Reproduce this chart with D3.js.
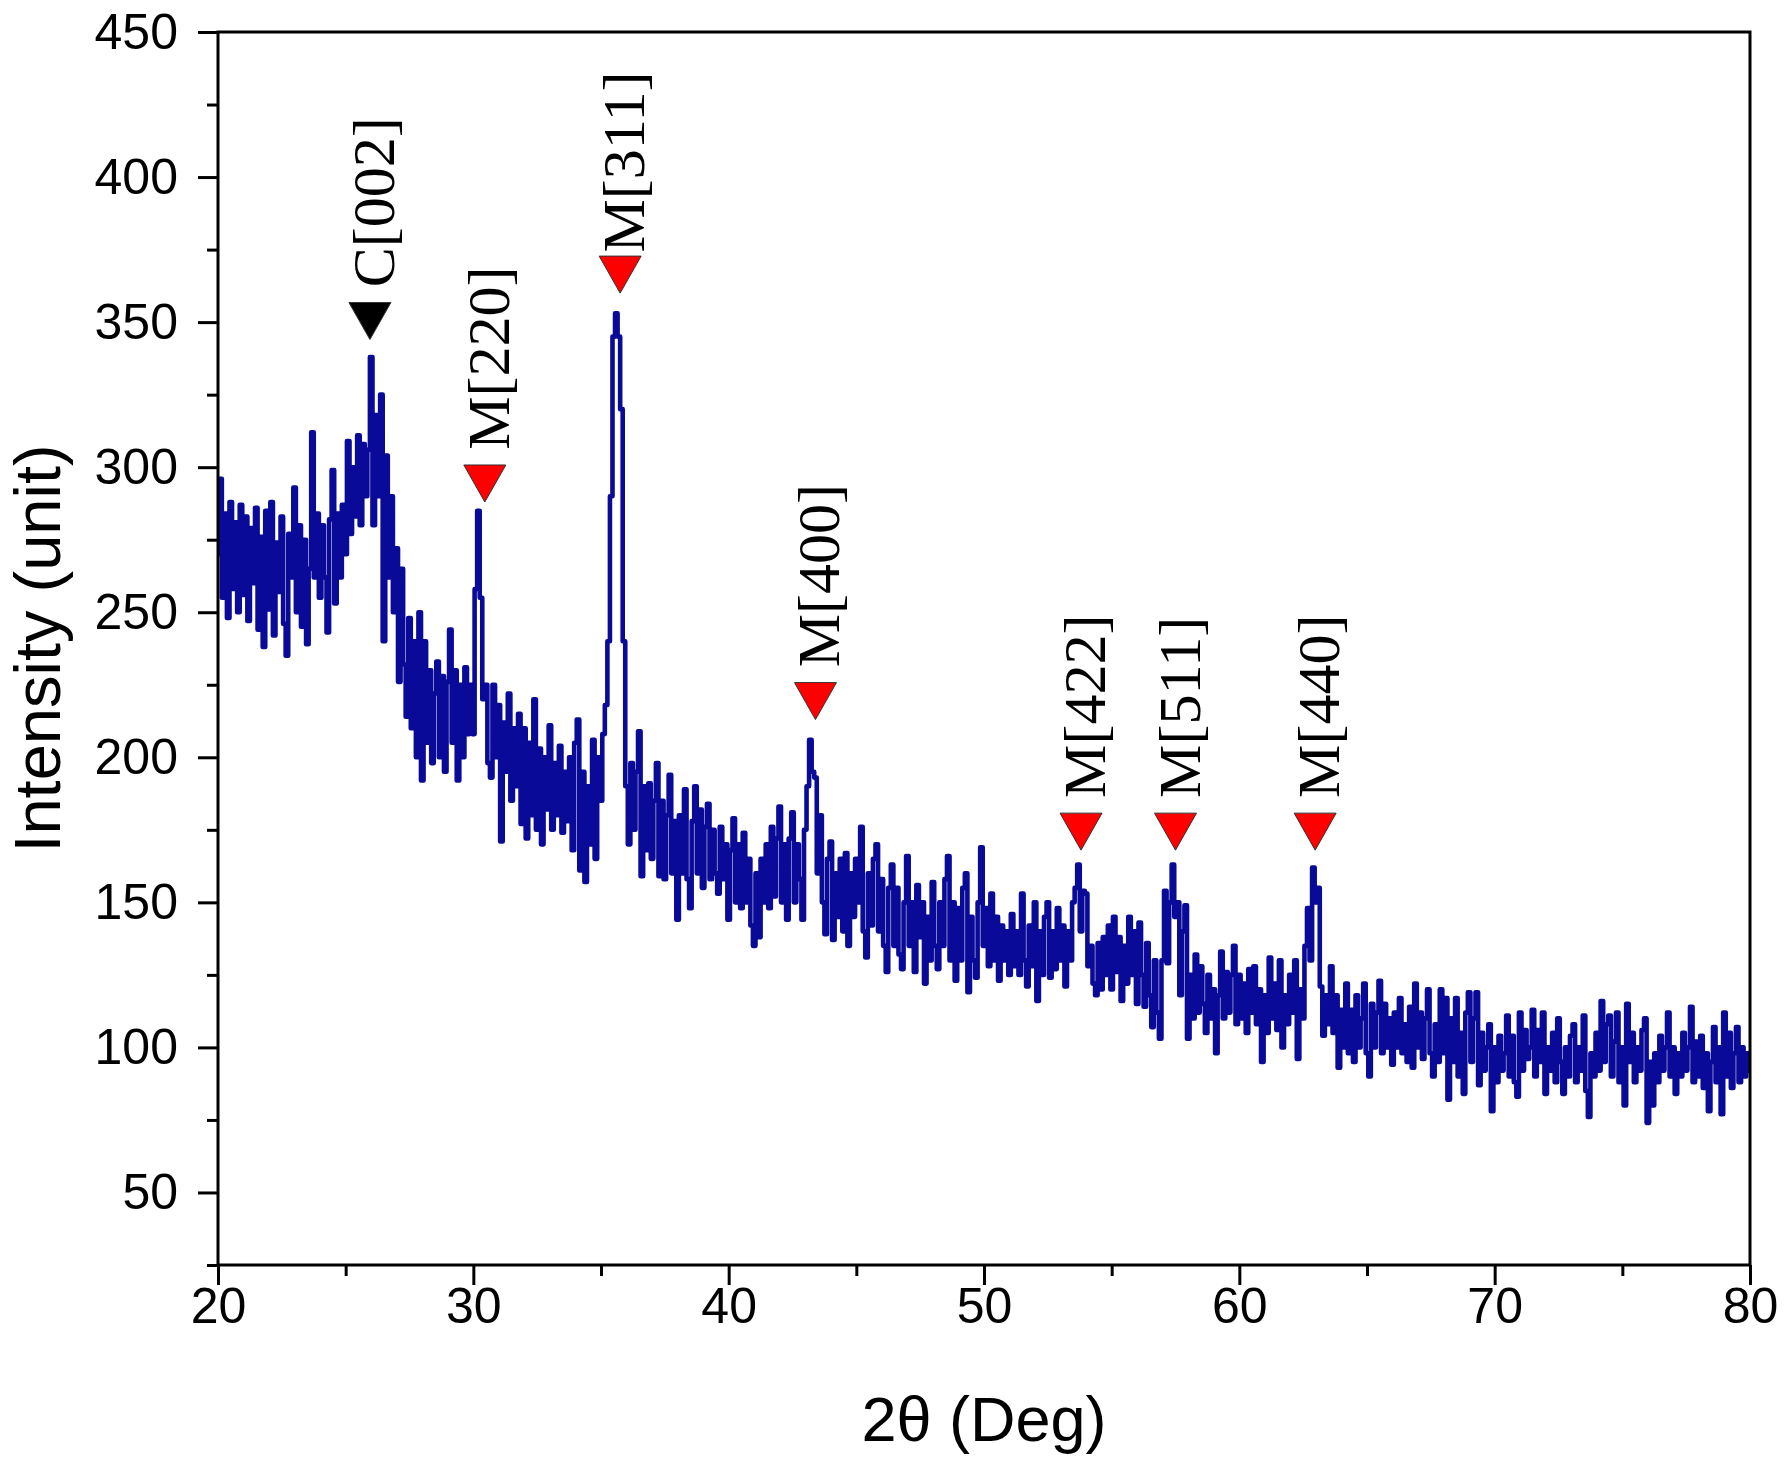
<!DOCTYPE html>
<html>
<head>
<meta charset="utf-8">
<script src="https://cdn.jsdelivr.net/npm/d3@7"></script>
<style>
body { margin: 0; background: #fff; }
svg { display: block; }
.peak-label { font-family: "Liberation Serif", "Times New Roman", Times, serif; }
</style>
</head>
<body>
<svg id="chart"></svg>
<script>
// 2theta scan, every 0.1 deg
const thetaStart = 20
const thetaStep = 0.1
const intensity = [
    270,296,255,284,248,288,258,281,250,287,
    256,283,247,279,260,286,244,276,238,285,
    251,288,242,274,257,283,246,235,277,262,
    293,250,280,245,275,239,265,312,262,284,
    255,280,262,243,282,299,253,284,262,287,
    270,309,277,300,283,311,280,308,290,306,
    338,280,318,290,325,240,304,262,290,250,
    272,226,265,232,214,248,210,240,200,250,
    192,240,205,230,198,222,233,200,228,195,
    226,244,205,230,192,225,200,231,208,225,
    208,258,285,255,220,225,198,193,225,200,
    218,171,212,195,222,185,210,190,215,177,
    210,172,205,180,220,175,203,170,200,182,
    211,175,198,180,204,174,195,178,200,168,
    205,213,161,195,157,190,170,206,165,200,
    185,208,218,240,290,345,353,345,320,240,
    190,170,198,175,195,209,159,190,168,191,
    165,185,198,159,185,158,180,194,160,178,
    144,180,160,189,158,148,178,190,160,182,
    155,176,184,158,175,160,153,176,158,170,
    144,168,179,150,170,148,174,150,165,142,
    135,160,138,165,150,170,148,176,152,172,
    183,150,170,144,172,181,150,170,158,144,
    175,190,206,195,193,160,180,150,139,165,
    171,137,160,145,165,140,167,135,160,145,
    165,150,176,140,131,160,142,165,170,140,
    158,135,126,155,163,135,155,132,127,150,
    166,135,150,126,156,138,150,122,145,130,
    157,135,127,150,135,158,166,130,150,123,
    148,130,155,160,119,145,130,124,150,169,
    135,148,128,153,130,145,123,142,130,140,
    125,146,128,140,125,153,130,121,142,128,
    150,116,140,125,145,150,124,140,127,148,
    130,142,121,140,130,150,155,163,140,154,
    153,128,135,122,118,136,120,138,125,142,
    120,145,126,138,116,135,122,145,125,140,
    115,143,125,114,136,118,107,130,112,103,
    130,154,129,150,163,145,150,118,140,149,
    103,125,110,132,112,128,115,105,125,110,
    120,98,118,133,110,126,112,125,135,108,
    125,110,122,105,127,112,128,108,120,95,
    118,105,131,110,122,106,130,100,118,108,
    125,112,130,96,120,110,135,148,130,162,
    150,155,121,104,118,108,128,105,118,93,
    113,100,122,98,113,95,118,100,110,122,
    98,90,115,100,112,123,98,115,100,110,
    94,112,100,117,98,108,95,114,93,122,
    100,112,96,110,120,98,90,108,95,120,
    98,117,82,110,95,117,90,105,84,112,
    119,95,110,119,87,105,92,100,108,78,
    100,88,104,92,98,111,90,104,88,83,
    112,92,106,96,100,113,90,106,95,112,
    84,100,92,105,88,110,95,84,100,90,
    104,108,88,100,92,111,85,76,98,90,
    105,92,116,95,108,111,90,102,112,88,
    100,80,115,95,105,88,100,92,106,110,
    74,95,80,98,88,104,92,100,112,90,
    100,84,98,90,105,92,100,114,88,102,
    90,104,86,98,78,95,107,88,100,77,
    112,90,105,86,98,107,88,100,90,98,
    92
]

const xTicks = [20, 30, 40, 50, 60, 70, 80]
const xMinor = [25, 35, 45, 55, 65, 75]
const yTicks = [50, 100, 150, 200, 250, 300, 350, 400, 450]
const yMinor = [25, 75, 125, 175, 225, 275, 325, 375, 425]

// peak markers: label, phase, 2theta, intensity at the marker tip,
// intensity where the label text begins
const peakLabels = ['C[002]', 'M[220]', 'M[311]', 'M[400]', 'M[422]', 'M[511]', 'M[440]']
const peakPhase = ['C', 'M', 'M', 'M', 'M', 'M', 'M']
const peakTheta = [25.95, 30.45, 35.75, 43.4, 53.8, 57.5, 62.97]
const peakTip = [344, 288, 360, 213, 168, 168, 168]
const peakLabelAt = [362, 306, 374, 231, 186, 186, 186]

const W = 1790, H = 1478
const m = {left: 218, right: 1750, top: 32, bottom: 1265}
const tickFont = '"Liberation Sans", Arial, sans-serif'

const svg = d3.select('#chart').attr('width', W).attr('height', H)
svg.append('rect').attr('width', W).attr('height', H).attr('fill', '#fff')

const x = d3.scaleLinear().domain([20, 80]).range([m.left, m.right])
const y = d3.scaleLinear().domain([25, 450]).range([m.bottom, m.top])

const points = intensity.map((v, i) => ({t: thetaStart + i * thetaStep, v}))

svg.append('clipPath').attr('id', 'plot')
    .append('rect')
    .attr('x', m.left).attr('y', m.top)
    .attr('width', m.right - m.left).attr('height', m.bottom - m.top)

const line = d3.line()
    .curve(d3.curveStep)
    .x(d => x(d.t))
    .y(d => y(d.v))

svg.append('path')
    .datum(points)
    .attr('clip-path', 'url(#plot)')
    .attr('d', line)
    .attr('fill', 'none')
    .attr('stroke', '#0a0a98')
    .attr('stroke-width', 4.6)
    .attr('stroke-linejoin', 'round')

// axes
const styleAxis = g => {
    g.select('.domain').remove()
    g.selectAll('line').attr('stroke', '#000').attr('stroke-width', 3)
    g.selectAll('text')
        .attr('font-family', tickFont)
        .attr('font-size', 50)
        .attr('fill', '#000')
}

svg.append('g')
    .attr('transform', `translate(${m.left},0)`)
    .call(d3.axisLeft(y).tickValues(yTicks).tickSize(20).tickPadding(20))
    .call(styleAxis)

svg.append('g')
    .attr('transform', `translate(${m.left},0)`)
    .call(d3.axisLeft(y).tickValues(yMinor).tickSize(11).tickFormat(''))
    .call(styleAxis)

svg.append('g')
    .attr('transform', `translate(0,${m.bottom})`)
    .call(d3.axisBottom(x).tickValues(xTicks).tickSize(20).tickPadding(2))
    .call(styleAxis)

svg.append('g')
    .attr('transform', `translate(0,${m.bottom})`)
    .call(d3.axisBottom(x).tickValues(xMinor).tickSize(11).tickFormat(''))
    .call(styleAxis)

svg.append('rect')
    .attr('x', m.left).attr('y', m.top)
    .attr('width', m.right - m.left).attr('height', m.bottom - m.top)
    .attr('fill', 'none')
    .attr('stroke', '#000')
    .attr('stroke-width', 3)

// axis titles
svg.append('text')
    .attr('x', (m.left + m.right) / 2)
    .attr('y', 1441)
    .attr('text-anchor', 'middle')
    .attr('font-family', tickFont)
    .attr('font-size', 63)
    .text('2θ (Deg)')

svg.append('text')
    .attr('transform', `translate(60,${(m.top + m.bottom) / 2}) rotate(-90)`)
    .attr('text-anchor', 'middle')
    .attr('font-family', tickFont)
    .attr('font-size', 65)
    .text('Intensity (unit)')

// peak markers
const triW = 42, triH = 37
const peaks = peakLabels.map((label, i) => ({
    label,
    phase: peakPhase[i],
    t: peakTheta[i],
    tip: peakTip[i],
    labelAt: peakLabelAt[i]
}))

const marks = svg.append('g')
    .selectAll('g')
    .data(peaks)
    .enter()
    .append('g')

marks.append('path')
    .attr('transform', d => `translate(${x(d.t)},${y(d.tip)})`)
    .attr('d', `M${-triW / 2},${-triH}L${triW / 2},${-triH}L0,0Z`)
    .attr('fill', d => d.phase === 'C' ? '#000' : '#ff0000')
    .attr('stroke', '#333')
    .attr('stroke-width', 1)

marks.append('text')
    .attr('class', 'peak-label')
    .attr('transform', d => `translate(${x(d.t)},${y(d.labelAt)}) rotate(-90)`)
    .attr('dy', '0.4em')
    .style('font-size', '60px')
    .text(d => d.label)
</script>
</body>
</html>
